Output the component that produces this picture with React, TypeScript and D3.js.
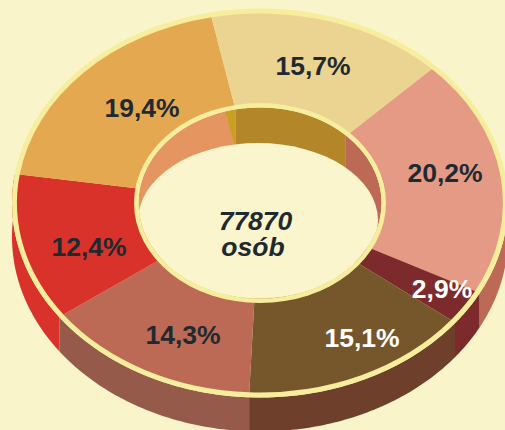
import React from "react";
import * as d3 from "d3";

const labels = ["20,2%", "2,9%", "15,1%", "14,3%", "12,4%", "19,4%", "15,7%"];
const values = [20.2, 2.9, 15.1, 14.3, 12.4, 19.4, 15.7];
const topColors = ["#e59a86", "#7c2a2c", "#76572b", "#bc6a56", "#d9322a", "#e4a950", "#ebd392"];
const wallColors = ["#bc6a56", "#7c2a2c", "#6e402c", "#965a4b", "#d9322a", "", ""];
const holeColors = ["#bc6a56", "#bc6a56", "#bc6a56", "#e49560", "#e49560", "#e49560", "#b38729"];
const labelColors = ["#1f2a30", "#ffffff", "#ffffff", "#1f2a30", "#1f2a30", "#1f2a30", "#1f2a30"];
const labelX = [445, 442, 362, 183, 89, 142, 313];
const labelY = [182, 298, 347, 344, 256, 117, 75];
const centerLines = ["77870", "osób"];
const centerX = [255.5, 253];
const centerY = [230, 256];

const BG = "#f9f4ca";
const RIM = "#f6ee9d";
const HOLE = "#faf5cc";
const GOLD = "#c9a024";
const cx = 260, cy = 203, rx = 243, ry = 189.5;
const irx = 121.5, iry = 95.5;
const rimW = 5;
const innerRimW = 4.5;
const depth = 34;
const creamCx = 258, creamCy = 220.5, creamRx = 120, creamRy = 77.5;
const START = (45 * Math.PI) / 180;
const SLIVER = (5 * Math.PI) / 180;

const pie = d3.pie<number>().sort(null).startAngle(START).endAngle(START + 2 * Math.PI);
const arcs = pie(values);

const onEllipse = (a: number, x0: number, y0: number, rxx: number, ryy: number): [number, number] => [
  x0 + rxx * Math.sin(a),
  y0 - ryy * Math.cos(a),
];

function ellipseBand(a0: number, a1: number, x0: number, y0: number, rxx: number, ryy: number, dy: number) {
  const steps = d3.range(0, 61).map((i) => a0 + ((a1 - a0) * i) / 60);
  const top = steps.map((a) => onEllipse(a, x0, y0, rxx, ryy));
  const bottom = top.slice().reverse().map(([x, y]) => [x, y + dy] as [number, number]);
  return d3.line()(top.concat(bottom)) + "Z";
}

function sliverPath() {
  const a = arcs[5].endAngle;
  const p0 = onEllipse(a, cx, cy, irx, iry);
  const p1 = onEllipse(a - SLIVER, cx, cy, irx, iry);
  return d3.line()([p0, p1, [p0[0], p0[1] + 40]]) + "Z";
}

export default function App() {
  const unit = d3.arc<d3.PieArcDatum<number>>().innerRadius(irx / rx * 0.98).outerRadius(1);
  return (
    <svg width={505} height={430} style={{ position: "absolute", left: 0, top: 0, background: BG }} fontFamily="Liberation Sans, Arial, sans-serif">
      <rect width={505} height={430} fill={BG} />
      {arcs.map((d, i) =>
        wallColors[i] ? (
          <path
            key={i}
            d={ellipseBand(Math.max(d.startAngle, Math.PI / 2), d.endAngle, cx, cy, rx + rimW, ry + rimW, depth)}
            fill={wallColors[i]}
          />
        ) : null
      )}
      <ellipse cx={cx} cy={cy} rx={rx + rimW} ry={ry + rimW} fill={RIM} />
      <g transform={`translate(${cx},${cy}) scale(${rx},${ry})`}>
        {arcs.map((d, i) => (
          <path key={i} d={unit(d) as string} fill={topColors[i]} />
        ))}
      </g>
      <ellipse cx={cx} cy={cy} rx={irx + innerRimW} ry={iry + innerRimW} fill={RIM} />
      <clipPath id="hole"><ellipse cx={cx} cy={cy} rx={irx} ry={iry} /></clipPath>
      <g clipPath="url(#hole)">
        {arcs.map((d, i) => (
          <path key={i} d={ellipseBand(d.startAngle, d.endAngle, cx, cy, irx, iry, 120)} fill={holeColors[i]} />
        ))}
        <path d={sliverPath()} fill={GOLD} />
        <ellipse cx={creamCx} cy={creamCy} rx={creamRx} ry={creamRy} fill={HOLE} />
      </g>
      {labels.map((t, i) => (
        <text key={i} x={labelX[i]} y={labelY[i]} textAnchor="middle" fontSize={26.5} fontWeight={700} fill={labelColors[i]}>{t}</text>
      ))}
      {centerLines.map((t, i) => (
        <text key={t} x={centerX[i]} y={centerY[i]} textAnchor="middle" fontSize={26.5} fontWeight={700} fontStyle="italic" fill="#1f2a30">{t}</text>
      ))}
    </svg>
  );
}
